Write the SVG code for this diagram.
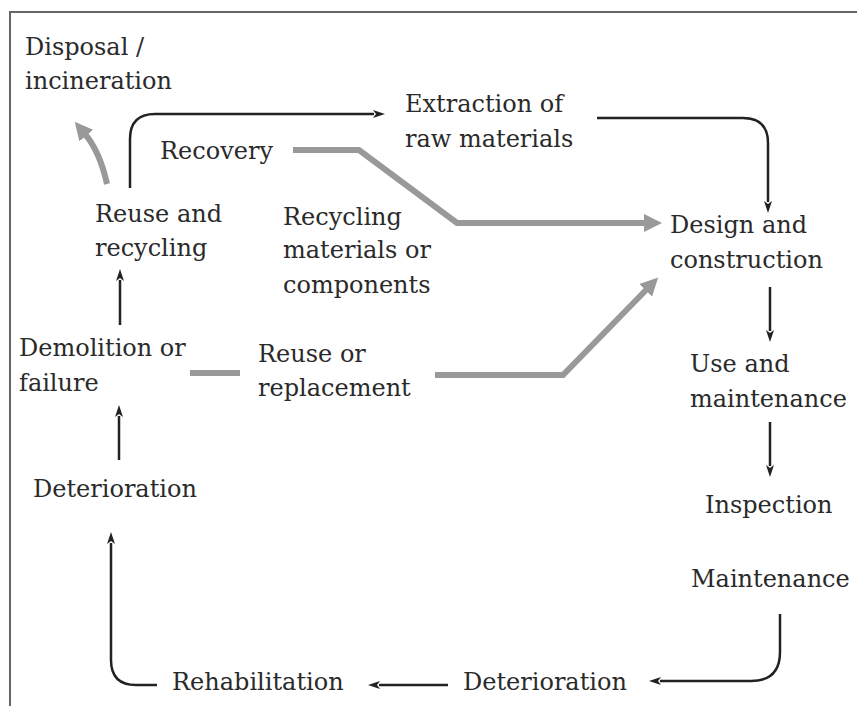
<svg xmlns="http://www.w3.org/2000/svg" width="857" height="706" viewBox="0 0 857 706">
<style>
.t{font-family:"DejaVu Serif","Liberation Serif",serif;font-size:24px;fill:#2a2a2a}
.b{fill:none;stroke:#222;stroke-width:2.5}
.g{fill:none;stroke:#999;stroke-width:6}
</style>
<defs>
<marker id="ba" markerUnits="userSpaceOnUse" viewBox="0 0 12 8" markerWidth="12" markerHeight="8" refX="1" refY="4" orient="auto"><path d="M0,0 L12,4 L0,8 L3,4 z" fill="#222"/></marker>
<marker id="ga" markerUnits="userSpaceOnUse" viewBox="0 0 18 18" markerWidth="18" markerHeight="18" refX="2" refY="9" orient="auto"><path d="M0,0 L18,9 L0,18 z" fill="#999"/></marker>
</defs>
<rect width="857" height="706" fill="#fff"/>
<path d="M10,706 V12 H857" fill="none" stroke="#666" stroke-width="2"/>
<g id="connectors">
<path class="b" d="M130,188 V139 Q130,114 155,114 H374" marker-end="url(#ba)"/>
<path class="b" d="M597,118 H743 Q768,118 768,143 V202" marker-end="url(#ba)"/>
<path class="g" d="M293,150 H359 L457,223 H646" marker-end="url(#ga)"/>
<path class="g" d="M190,373 H240"/>
<path class="g" d="M435,375 H563 L647,289" marker-end="url(#ga)"/>
<path class="g" d="M107,184 Q100,152 85,134" marker-end="url(#ga)"/>
<path class="b" d="M120,325 V280" marker-end="url(#ba)"/>
<path class="b" d="M119,460 V416" marker-end="url(#ba)"/>
<path class="b" d="M157,685 H136 Q111,685 111,660 V543" marker-end="url(#ba)"/>
<path class="b" d="M448,685 H379" marker-end="url(#ba)"/>
<path class="b" d="M780,614 V652 Q780,681 751,681 H660" marker-end="url(#ba)"/>
<path class="b" d="M770,287 V331" marker-end="url(#ba)"/>
<path class="b" d="M770,422 V466" marker-end="url(#ba)"/>
</g>
<g id="disposal"><text class="t" x="25" y="55">Disposal /</text><text class="t" x="25" y="89">incineration</text></g>
<g id="extraction"><text class="t" x="405" y="112">Extraction of</text><text class="t" x="405" y="147">raw materials</text></g>
<g id="recovery"><text class="t" x="160" y="159">Recovery</text></g>
<g id="reuse-recycling"><text class="t" x="95" y="222">Reuse and</text><text class="t" x="95" y="256">recycling</text></g>
<g id="recycling-materials"><text class="t" x="283" y="225">Recycling</text><text class="t" x="283" y="258">materials or</text><text class="t" x="283" y="293">components</text></g>
<g id="design"><text class="t" x="670" y="233">Design and</text><text class="t" x="670" y="268">construction</text></g>
<g id="demolition"><text class="t" x="19" y="356">Demolition or</text><text class="t" x="19" y="391">failure</text></g>
<g id="reuse-replacement"><text class="t" x="258" y="362">Reuse or</text><text class="t" x="258" y="396">replacement</text></g>
<g id="deterioration-left"><text class="t" x="33" y="497">Deterioration</text></g>
<g id="use"><text class="t" x="690" y="372">Use and</text><text class="t" x="690" y="407">maintenance</text></g>
<g id="inspection"><text class="t" x="705" y="513">Inspection</text></g>
<g id="maintenance"><text class="t" x="691" y="587">Maintenance</text></g>
<g id="rehabilitation"><text class="t" x="172" y="690">Rehabilitation</text></g>
<g id="deterioration-bottom"><text class="t" x="463" y="690">Deterioration</text></g>
</svg>
